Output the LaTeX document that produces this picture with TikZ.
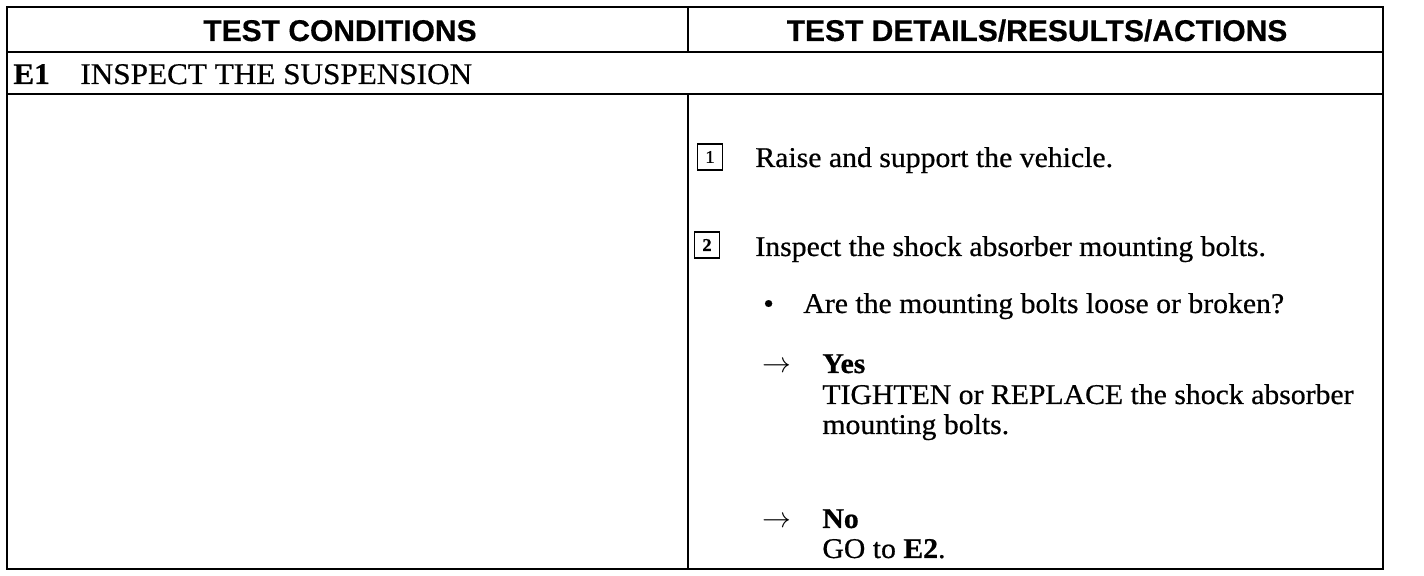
\documentclass[tikz,border=0pt]{standalone}
\usepackage{fontspec}
\setmainfont{Liberation Serif}[FakeStretch=1.04,FakeBold=0.6]
\newfontfamily\hdrfont{Liberation Sans}[FakeBold=0.4]
\begin{document}
\begin{tikzpicture}[x=0.5pt,y=-0.5pt,
  rule/.style={line width=1.2pt},
  hdr/.style={font=\hdrfont\bfseries\fontsize{15}{18}\selectfont, anchor=base, inner sep=0pt},
  body/.style={font=\fontsize{14.3}{16}\selectfont, anchor=base west, inner sep=0pt},
  rowtitle/.style={font=\fontsize{15}{17}\selectfont, anchor=base west, inner sep=0pt},
  numbox/.style={draw, line width=0.8pt, minimum width=12.5pt, minimum height=13pt, inner sep=0pt, font=\fontsize{9}{10}\selectfont},
  arr/.style={font=\fontsize{15}{16}\selectfont, anchor=base west, inner sep=0pt}]
\useasboundingbox (0,0) rectangle (1424,576);
% table frame
\draw[rule] (7,7) rectangle (1383,569);
\draw[rule] (7,52) -- (1383,52);
\draw[rule] (7,94) -- (1383,94);
\draw[rule] (688,7) -- (688,52);
\draw[rule] (688,94) -- (688,569);
% header
\node[hdr] (hc) at (340,41) {TEST CONDITIONS};
\node[hdr] (hd) at (1037,41) {TEST DETAILS/RESULTS/ACTIONS};
% row title
\node[rowtitle] (e1) at (13,84) {\textbf{E1}};
\node[rowtitle] (e1t) at (80,84) {INSPECT THE SUSPENSION};
% step 1
\node[numbox] (b1) at (710,157) {1};
\node[body] (s1) at (755,167) {Raise and support the vehicle.};
% step 2
\node[numbox] (b2) at (707,245) {\textbf{2}};
\node[body] (s2) at (755,256) {Inspect the shock absorber mounting bolts.};
\node[body] (bul) at (763,313) {•};
\node[body] (q) at (803,313) {Are the mounting bolts loose or broken?};
% yes
\node[arr] (ay) at (762,373) {$\rightarrow$};
\node[body] (yes) at (822,373) {\textbf{Yes}};
\node[body] (yes1) at (822,404) {TIGHTEN or REPLACE the shock absorber};
\node[body] (yes2) at (822,434) {mounting bolts.};
% no
\node[arr] (an) at (762,528) {$\rightarrow$};
\node[body] (no) at (822,528) {\textbf{No}};
\node[body] (no1) at (822,558) {GO to \textbf{E2}.};
\end{tikzpicture}
\end{document}
